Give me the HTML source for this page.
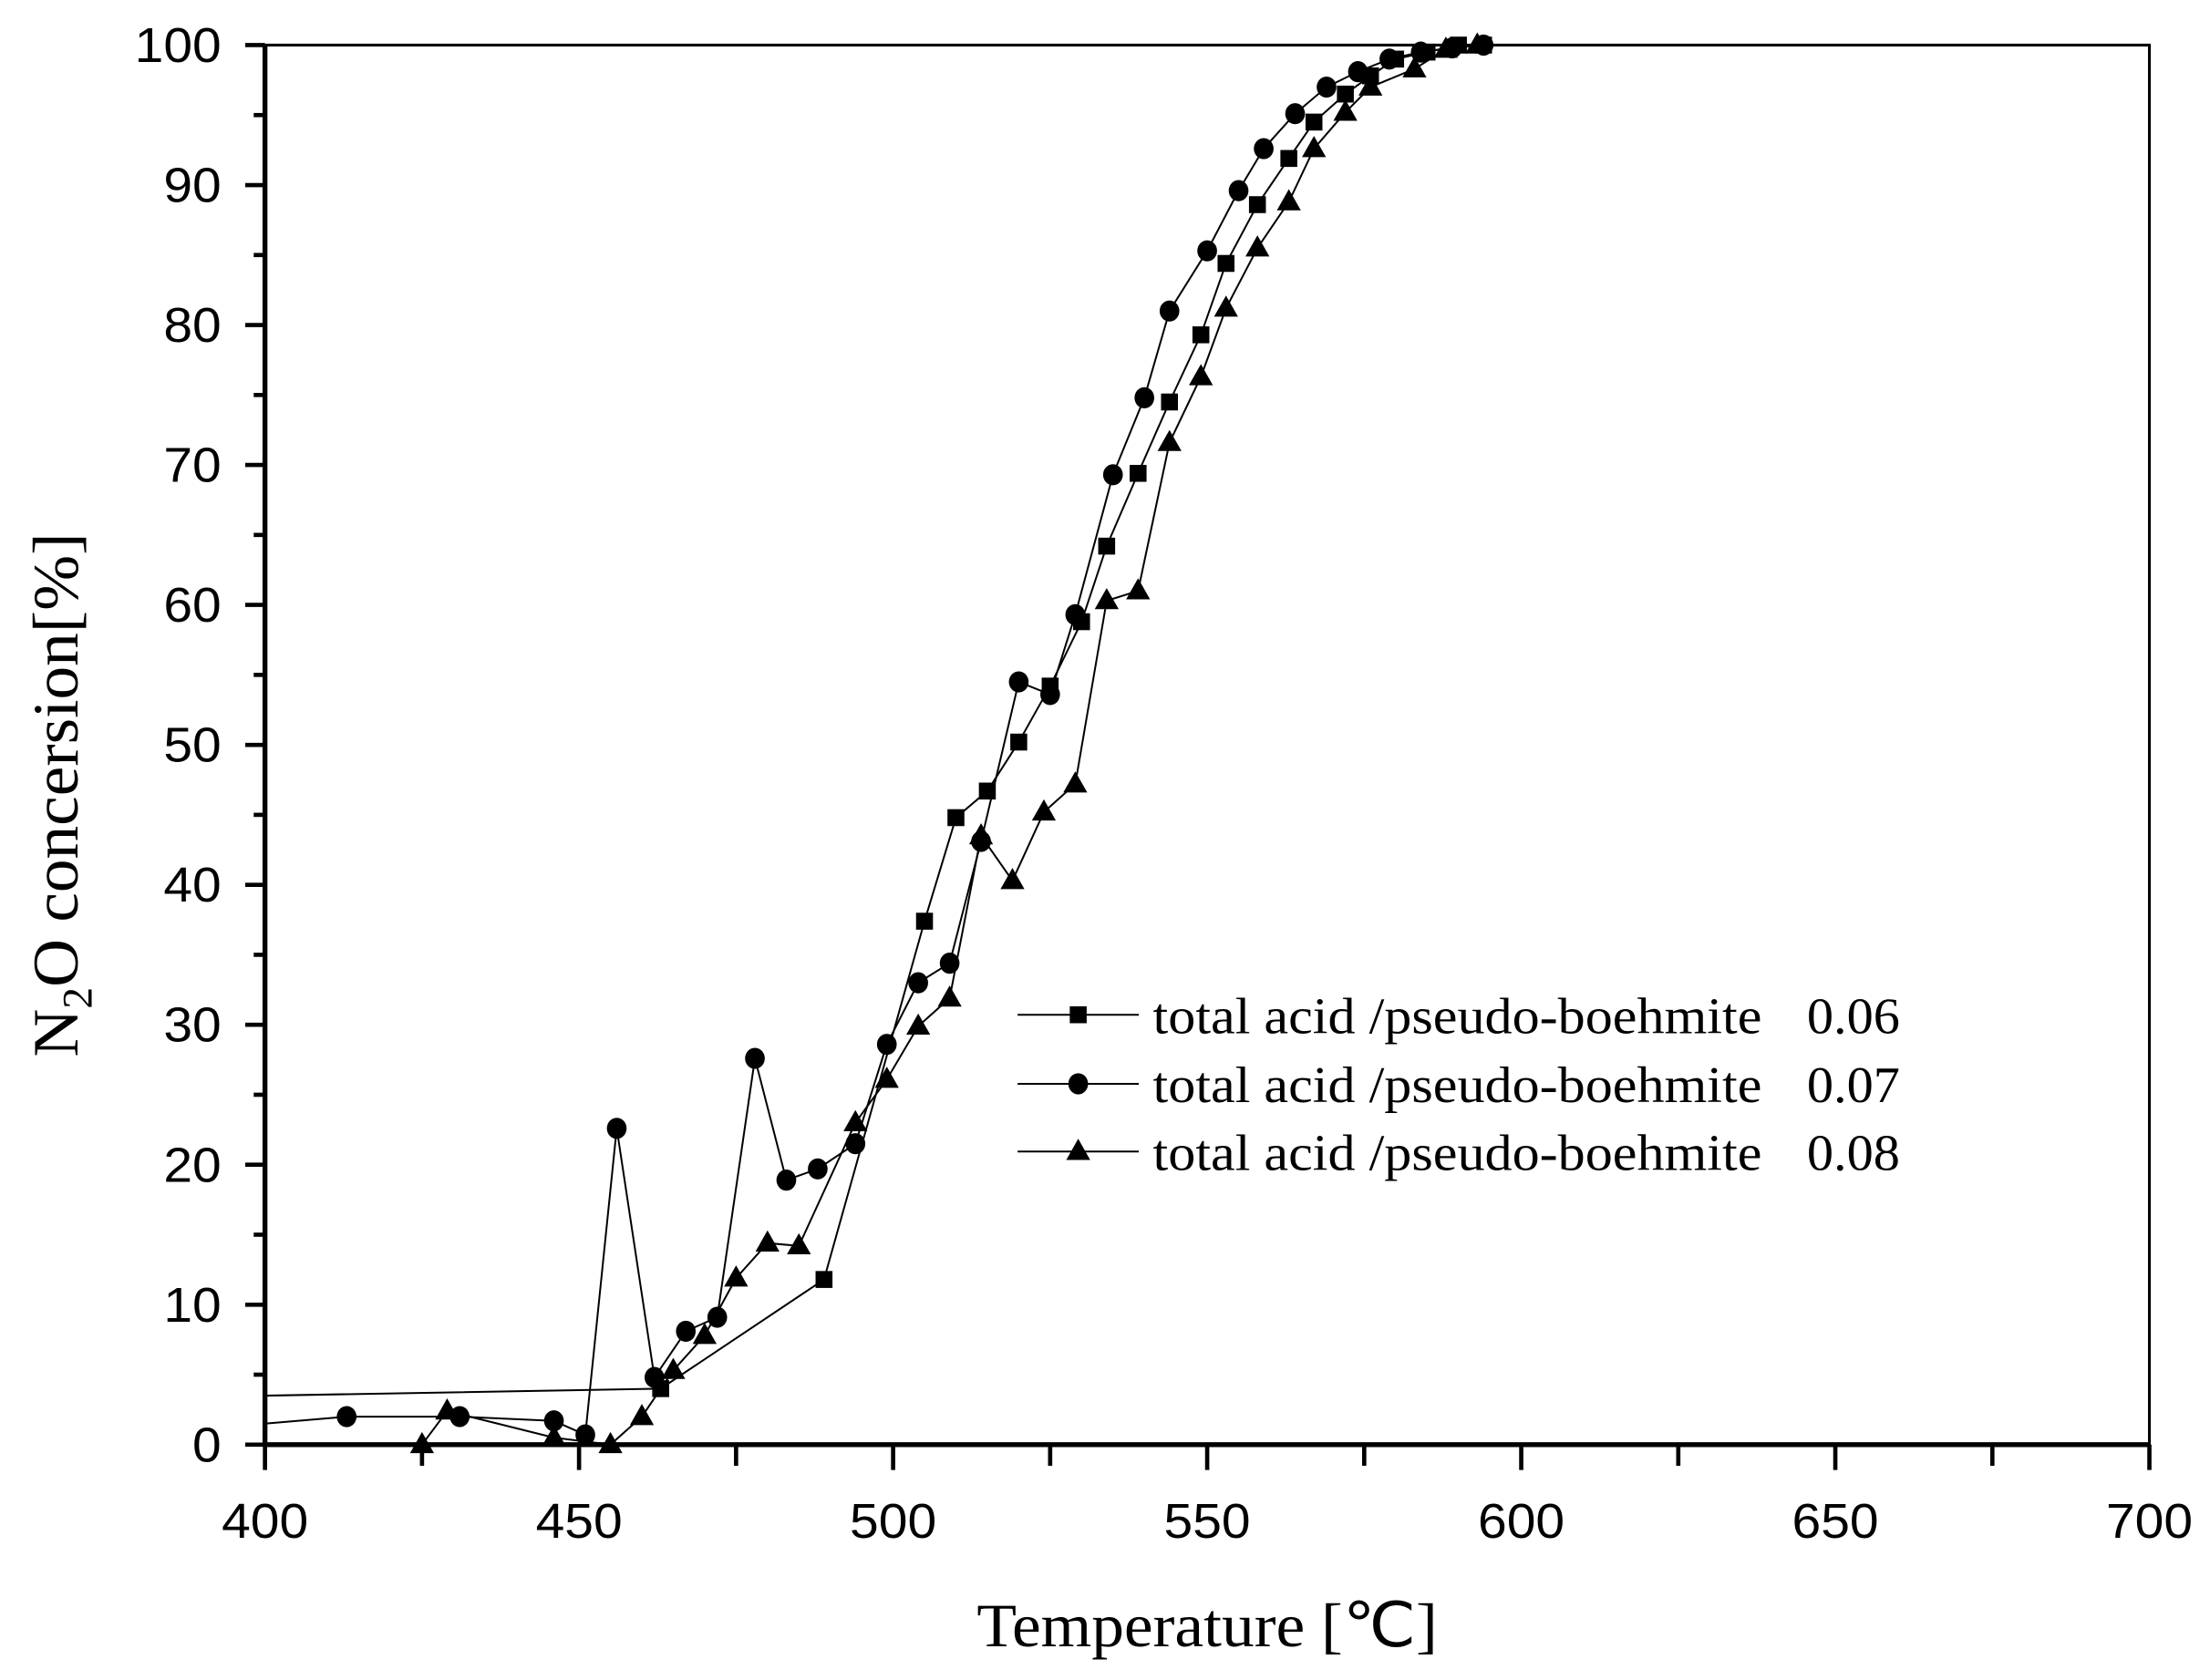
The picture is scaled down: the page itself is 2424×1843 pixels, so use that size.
<!DOCTYPE html>
<html><head><meta charset="utf-8"><style>html,body{margin:0;padding:0;background:#fff}svg{display:block}</style></head>
<body>
<svg id="s" width="2424" height="1843" viewBox="0 0 1568 1192" preserveAspectRatio="none" xmlns="http://www.w3.org/2000/svg">
<rect width="1568" height="1192" fill="#fff"/>
<g id="g"></g>
<g font-family="Liberation Sans, Arial, sans-serif" font-size="35" fill="#000" id="t"></g>
<text x="693" y="1168" font-family="Liberation Serif, serif" font-size="44" textLength="327" lengthAdjust="spacingAndGlyphs">Temperature [℃]</text>
<g transform="translate(55,750) rotate(-90)" font-family="Liberation Serif, serif" font-size="46">
<text x="0" y="0" textLength="372" lengthAdjust="spacingAndGlyphs">N<tspan font-size="30" dy="10">2</tspan><tspan dy="-10">O concersion[%]</tspan></text>
</g>
<g font-family="Liberation Serif, serif" font-size="36">
<text x="818" y="733" textLength="432" lengthAdjust="spacingAndGlyphs">total acid /pseudo-boehmite</text><text x="1282" y="733" textLength="66" lengthAdjust="spacingAndGlyphs">0.06</text>
<text x="818" y="782" textLength="432" lengthAdjust="spacingAndGlyphs">total acid /pseudo-boehmite</text><text x="1282" y="782" textLength="66" lengthAdjust="spacingAndGlyphs">0.07</text>
<text x="818" y="830" textLength="432" lengthAdjust="spacingAndGlyphs">total acid /pseudo-boehmite</text><text x="1282" y="830" textLength="66" lengthAdjust="spacingAndGlyphs">0.08</text>
</g>
</svg>
<script>
var L=188,R=1525,T=32,B=1025;
function X(v){return L+(v-400)*(R-L)/300}
function Y(v){return B-v*(B-T)/100}
var h='';
h+='<rect x="'+L+'" y="'+T+'" width="'+(R-L)+'" height="'+(B-T)+'" fill="none" stroke="#000" stroke-width="2"/>';
h+='<line x1="'+L+'" y1="'+T+'" x2="'+L+'" y2="'+B+'" stroke="#000" stroke-width="3.5"/>';
h+='<line x1="'+L+'" y1="'+B+'" x2="'+R+'" y2="'+B+'" stroke="#000" stroke-width="3.5"/>';
var t='';
function w(s){return s.length*20.5}
for(var v=0;v<=100;v+=5){var y=Y(v);var len=v%10==0?14:8;h+='<line x1="'+(L-len)+'" y1="'+y+'" x2="'+L+'" y2="'+y+'" stroke="#000" stroke-width="3"/>';
 if(v%10==0){var s=''+v;t+='<text x="'+(L-31-w(s))+'" y="'+(y+12)+'" textLength="'+w(s)+'" lengthAdjust="spacingAndGlyphs">'+s+'</text>';}}
for(var v=400;v<=700;v+=25){var x=X(v);var len=v%50==0?18:15;h+='<line x1="'+x+'" y1="'+B+'" x2="'+x+'" y2="'+(B+len)+'" stroke="#000" stroke-width="3"/>';
 if(v%50==0){var s=''+v;t+='<text x="'+(x-w(s)/2)+'" y="'+(B+66)+'" textLength="'+w(s)+'" lengthAdjust="spacingAndGlyphs">'+s+'</text>';}}
var sq=[[400,3.5],[463,4],[489,11.8],[505,37.4],[510,44.8],[515,46.7],[520,50.2],[525,54.2],[530,58.8],[534,64.2],[539,69.4],[544,74.5],[549,79.3],[553,84.4],[558,88.6],[563,91.9],[567,94.5],[572,96.5],[576,97.8],[580,99],[585,99.5],[590,100],[594,100]];
var ci=[[400,1.5],[413,2],[431,2],[446,1.7],[451,0.7],[456,22.6],[462,4.8],[467,8.1],[472,9.1],[478,27.6],[483,18.9],[488,19.7],[494,21.5],[499,28.6],[504,33],[509,34.4],[514,43.1],[520,54.5],[525,53.6],[529,59.3],[535,69.3],[540,74.8],[544,81],[550,85.3],[555,89.6],[559,92.6],[564,95.1],[569,97],[574,98.1],[579,99],[584,99.5],[589,99.8],[594,100]];
var tr=[[425,0],[429,2.4],[446,0.5],[455,0],[460,2],[465,5.3],[470,7.8],[475,11.9],[480,14.4],[485,14.2],[494,23],[499,26.1],[504,29.9],[509,31.9],[514,43.5],[519,40.3],[524,45.2],[529,47.2],[534,60.3],[539,61],[544,71.6],[549,76.3],[553,81.2],[558,85.5],[563,88.8],[567,92.6],[572,95.2],[576,97],[583,98.3],[588,99.7],[593,100]];
function line(d){return '<polyline fill="none" stroke="#000" stroke-width="1.3" points="'+d.map(function(p){return X(p[0])+','+Y(p[1])}).join(' ')+'"/>';}
function msq(x,y){return '<rect x="'+(x-6)+'" y="'+(y-6)+'" width="12" height="12" fill="#000"/>';}
function mci(x,y){return '<ellipse cx="'+x+'" cy="'+y+'" rx="7" ry="7.5" fill="#000"/>';}
function mtr(x,y){return '<polygon points="'+x+','+(y-9)+' '+(x-8.5)+','+(y+6)+' '+(x+8.5)+','+(y+6)+'" fill="#000"/>';}
h+=line(sq)+line(ci)+line(tr);
sq.forEach(function(p){if(p[0]>400)h+=msq(X(p[0]),Y(p[1]))});
ci.forEach(function(p){if(p[0]>400)h+=mci(X(p[0]),Y(p[1]))});
tr.forEach(function(p){h+=mtr(X(p[0]),Y(p[1]))});
[[720,msq],[769,mci],[817,mtr]].forEach(function(a){h+='<line x1="722" y1="'+a[0]+'" x2="808" y2="'+a[0]+'" stroke="#000" stroke-width="1.3"/>'+a[1](765,a[0]);});
document.getElementById('g').innerHTML=h;
document.getElementById('t').innerHTML=t;
</script>
</body></html>
